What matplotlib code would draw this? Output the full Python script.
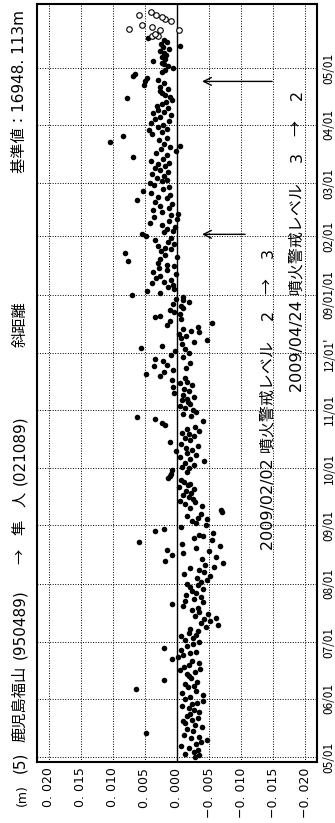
import matplotlib
matplotlib.use('Agg')
import matplotlib.pyplot as plt
import numpy as np
from datetime import date

LATIN_FIRST = ['DejaVu Sans', 'Noto Sans CJK JP']
CJK_FIRST = ['Noto Sans CJK JP', 'DejaVu Sans']
plt.rcParams['font.family'] = LATIN_FIRST

# ---------------- data ----------------
START = date(2008, 5, 1)

# daily slope-distance residuals (mm), one value per day from 2008-05-01
filled_mm = [
    -2.8, -3.5, -1.2, -2.6, -3.2, -1.8, -0.7, -2.9, -3.8, -4.6,
    -2.2, -3.4, -1.1, 4.8, -2.5, -1.6, -3.9, -2.8, -1.3, -0.9,
    -2.4, -3.3, -1.5, -2.0, -3.5, -2.7, -1.8, -0.8, -2.3, -3.1,
    -4.1, -1.2, -2.0, -4.1, -0.8, -2.9, 6.4, -1.7, -2.6, -1.3,
    -3.1, 2.1, -2.2, -1.9, -1.5, -2.8, -0.5, -3.6, -1.1, -1.9,
    -3.4, -2.4, 0.8, -0.2, -1.0, -2.0, -3.0, -0.7, 2.1, -1.6,
    -2.5, -3.4, -1.3, -2.5, -0.6, -2.9, -1.8, -3.2, -2.0, -4.5,
    -6.4, -3.8, -5.2, -4.2, -6.1, -2.8, -4.8, -3.5, -2.3, -3.3,
    -0.9, 0.8, -4.0, -1.2, -2.6, -3.7, -1.4, -3.0, -2.4, -4.0,
    -2.1, -3.3, -1.6, -3.8, -4.6, -3.1, -5.1, -1.1, -4.2, -3.5,
    -2.0, -5.8, -4.4, -7.2, 1.9, -3.9, -6.1, 0.8, -1.0, -5.0,
    1.6, -3.0, -6.7, -0.8, 5.9, -5.4, -2.6, -4.1, -3.4, -5.6,
    3.4, 2.1, -0.7, -4.5, -3.0, -2.4, -4.6, -3.2, -1.5, -3.8,
    -7.0, -6.8, -2.0, -3.9, -1.3, -2.8, -0.4, -2.5, -1.8, -0.9,
    -2.2, -1.4, -2.6, -0.3, -1.7, -2.0, -1.1, -0.6, 1.4, 1.1,
    0.9, -1.6, 0.8, -1.9, -0.8, -2.7, -1.2, -4.2, -2.1, -0.5,
    -3.0, -1.6, 0.2, -2.4, -1.4, -3.3, -0.7, 1.1, -2.0, -1.2,
    -2.6, -1.8, -0.8, -3.4, -1.5, -2.8, 1.9, 2.4, -4.0, 3.4,
    6.2, -2.2, -1.0, -3.0, -2.5, -1.2, -0.4, -2.1, -1.7, -0.8,
    -1.5, -2.7, -0.9, 0.4, -1.8, -1.1, 0.6, -2.4, -0.5, -1.6,
    0.8, -1.2, 2.6, 4.8, 2.0, 0.7, -1.4, 3.6, 1.6, -2.1,
    2.2, 3.4, -1.0, 1.0, -1.8, 0.3, -1.3, 5.6, 2.4, -0.8,
    -2.7, -4.6, -0.6, -1.4, -0.3, -3.5, -2.2, -0.9, -3.2, 1.6,
    -5.4, 1.1, -0.7, 3.4, 2.6, -0.4, 0.5, 1.1, -1.0, -0.7,
    0.6, -1.8, -0.9, 0.2, -0.9, 7.0, 2.6, 4.6, 0.4, 1.4,
    0.6, 3.9, 2.0, 1.0, 3.3, 2.6, 0.2, 3.8, 1.5, 2.8,
    0.4, 1.6, 3.0, 7.6, 2.7, 0.0, 1.8, 8.1, 2.5, 0.9,
    1.8, 2.9, 0.5, 1.4, 3.5, 1.0, 4.8, 5.5, 2.0, 0.6,
    1.6, 0.3, 2.4, 4.2, 1.2, 0.0, 3.6, 1.0, -0.2, 2.3,
    3.8, 1.2, 2.6, 0.8, 3.4, 6.2, 1.5, 2.9, 1.1, 4.0,
    5.3, 2.2, 1.3, 3.6, 4.2, 2.4, 1.6, 3.1, 2.0, 3.9,
    1.4, 2.7, 3.5, 1.8, 2.9, 1.3, 4.0, 2.2, 6.8, 1.6,
    3.3, 0.2, 2.5, 1.1, -0.4, 2.0, 10.4, 2.8, 1.5, 8.4,
    3.9, 2.4, 4.3, 1.6, 3.0, 2.2, 4.0, 1.2, 3.4, 2.6,
    1.0, 3.8, 2.0, 2.9, 1.4, 3.1, 2.3, 1.7, 0.8, 7.8,
    1.1, 1.9, 2.4, 2.7, 1.4, 2.6, 5.2, 2.0, 5.0, 2.9,
    4.7, 6.8, 6.5, 2.4, 1.8, 0.6, 1.4, 2.0, 2.4, 3.8,
    1.9, 2.3, 1.7, 2.1, 2.6, 1.3, 2.2, -0.5, 2.5, 1.6,
    2.1, 4.5, 3.7,
]
filled_days = list(range(len(filled_mm)))

# provisional (open circle) values
open_days = [382, 382, 383, 385, 385, 386, 387, 388, 390, 391, 392, 393, 393, 395]
open_mm = [2.9, 3.9, 3.4, 2.6, -0.3, 7.4, 3.9, 5.5, 1.0, 1.9, 2.4, 5.9, 3.2, 4.1]

month_starts = [date(2008, 5, 1), date(2008, 6, 1), date(2008, 7, 1), date(2008, 8, 1),
                date(2008, 9, 1), date(2008, 10, 1), date(2008, 11, 1), date(2008, 12, 1),
                date(2009, 1, 1), date(2009, 2, 1), date(2009, 3, 1), date(2009, 4, 1),
                date(2009, 5, 1)]
month_labels = ['05/01', '06/01', '07/01', '08/01', '09/01', '10/01', '11/01', "12/01'",
                '09/01/01', '02/01', '03/01', '04/01', '05/01']

value_ticks = [0.020, 0.015, 0.010, 0.005, 0.0, -0.005, -0.010, -0.015, -0.020]
value_labels = ['0. 020', '0. 015', '0. 010', '0. 005', '0. 000',
                '\u22120. 005', '\u22120. 010', '\u22120. 015', '\u22120. 020']

event_dates = [date(2009, 2, 2), date(2009, 4, 24)]
event_heads = ['2009/02/02 噴火警戒レベル', '2009/04/24 噴火警戒レベル']
event_levels = [('2', '3'), ('3', '2')]

title_parts = ['(5)', '鹿児島福山', '(950489)', '→', '隼', '人', '(021089)', '斜距離']
base_text = '基準値：16948. 113m'
unit_text = '(m)'

# ---------------- plot ----------------
W, H = 335, 823
fig = plt.figure(figsize=(W / 100, H / 100), dpi=100)
ax = fig.add_axes([37 / W, 61 / H, 280 / W, 758 / H])

ax.grid(True, color='black', linestyle=(0, (1, 1.6)), linewidth=0.7)
ax.axvline(0, color='black', linewidth=1.0, zorder=2.2)

ax.plot(np.array(filled_mm) / 1000.0, filled_days, 'o', color='black',
        ms=4.0, mew=0, zorder=3)
ax.plot(np.array(open_mm) / 1000.0, open_days, 'o', mfc='white', mec='black',
        ms=4.0, mew=0.8, zorder=3)

ax.set_xlim(0.0218, -0.0218)
ax.set_ylim(-2.5, 399)

ax.set_xticks(value_ticks)
ax.set_xticklabels(value_labels, rotation=90, fontsize=9)
month_days = [(d - START).days for d in month_starts]
ax.set_yticks(month_days)
ax.set_yticklabels(month_labels, rotation=90, fontsize=8.5, va='center',
                   family=CJK_FIRST)
ax.yaxis.tick_right()
ax.tick_params(length=0, pad=4)
for s in ax.spines.values():
    s.set_linewidth(1.5)


def vtext(xpx, ypx, s, ha, size, family=LATIN_FIRST):
    fig.text(xpx / W, (H - ypx) / H, s, rotation=90, rotation_mode='anchor',
             ha=ha, va='center', fontsize=size, family=family)


# event arrows and labels
tails = [-0.0106, -0.0148]
text_col = [268, 297]
text_start = [550, 392]
for d, head, lv, tx, cx, y0 in zip(event_dates, event_heads, event_levels,
                                   tails, text_col, text_start):
    dd = (d - START).days
    ax.annotate('', xy=(-0.0039, dd), xytext=(tx, dd),
                arrowprops=dict(arrowstyle='->', color='black', lw=1.0,
                                mutation_scale=14, shrinkA=0, shrinkB=0))
    vtext(cx, y0, head, 'left', 11.5)
    vtext(cx, y0 - 235, lv[0], 'center', 11.5)
    vtext(cx, y0 - 264, '→', 'center', 11.5, CJK_FIRST)
    vtext(cx, y0 - 297, lv[1], 'center', 11.5)

# title pieces
vtext(20, 773, title_parts[0], 'left', 11)
vtext(20, 742, title_parts[1], 'left', 11)
vtext(20, 659, title_parts[2], 'left', 11)
vtext(20, 556, title_parts[3], 'center', 11, CJK_FIRST)
vtext(20, 527, title_parts[4], 'center', 11)
vtext(20, 499, title_parts[5], 'center', 11)
vtext(20, 485, title_parts[6], 'left', 11)
vtext(20, 347, title_parts[7], 'left', 11)
vtext(20, 10, base_text, 'right', 11)
fig.text(22 / W, (H - 795) / H, unit_text, rotation=90, ha='center', va='center',
         fontsize=9)

fig.savefig('out.png', dpi=100)
